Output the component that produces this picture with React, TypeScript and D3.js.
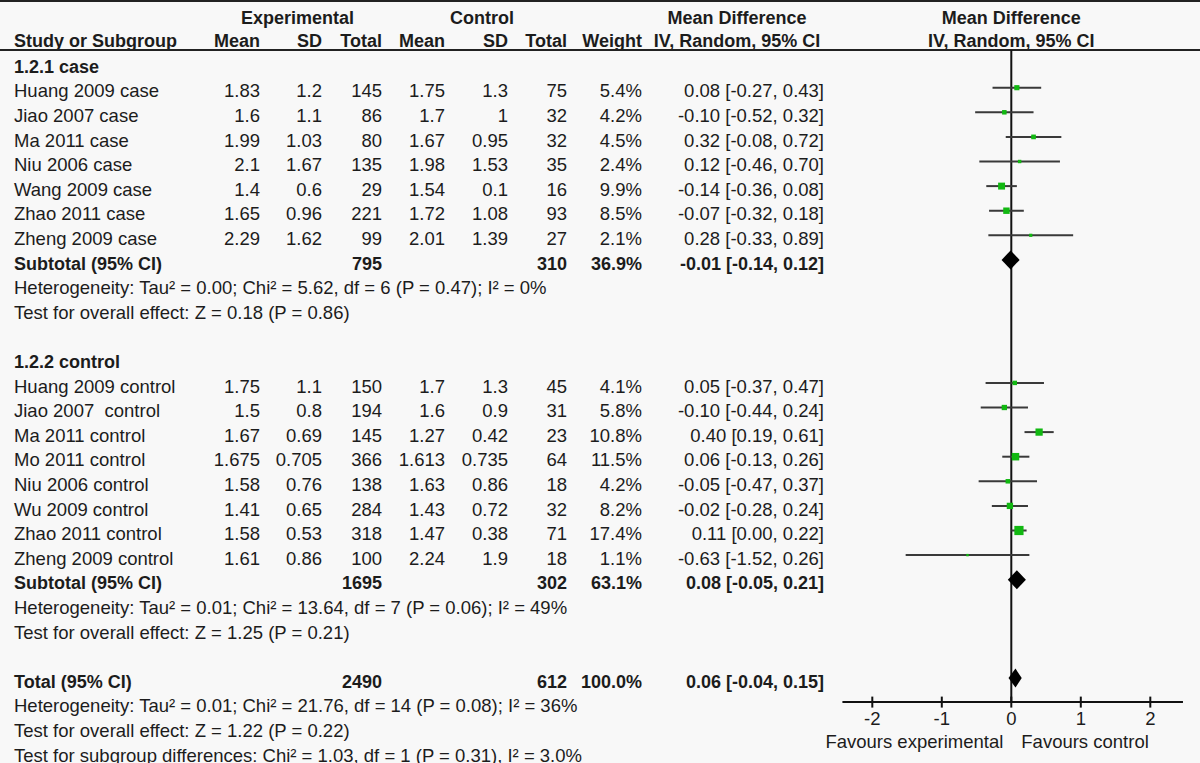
import React from "react";
import * as d3 from "d3";

const studies = [
  "Huang 2009 case", "Jiao 2007 case", "Ma 2011 case", "Niu 2006 case", "Wang 2009 case", "Zhao 2011 case", "Zheng 2009 case",
  "Huang 2009 control", "Jiao 2007  control", "Ma 2011 control", "Mo 2011 control", "Niu 2006 control", "Wu 2009 control", "Zhao 2011 control", "Zheng 2009 control",
];
const groupOf = [0, 0, 0, 0, 0, 0, 0, 1, 1, 1, 1, 1, 1, 1, 1];
const expMean = ["1.83", "1.6", "1.99", "2.1", "1.4", "1.65", "2.29", "1.75", "1.5", "1.67", "1.675", "1.58", "1.41", "1.58", "1.61"];
const expSD = ["1.2", "1.1", "1.03", "1.67", "0.6", "0.96", "1.62", "1.1", "0.8", "0.69", "0.705", "0.76", "0.65", "0.53", "0.86"];
const expTotal = [145, 86, 80, 135, 29, 221, 99, 150, 194, 145, 366, 138, 284, 318, 100];
const ctlMean = ["1.75", "1.7", "1.67", "1.98", "1.54", "1.72", "2.01", "1.7", "1.6", "1.27", "1.613", "1.63", "1.43", "1.47", "2.24"];
const ctlSD = ["1.3", "1", "0.95", "1.53", "0.1", "1.08", "1.39", "1.3", "0.9", "0.42", "0.735", "0.86", "0.72", "0.38", "1.9"];
const ctlTotal = [75, 32, 32, 35, 16, 93, 27, 45, 31, 23, 64, 18, 32, 71, 18];
const weights = [5.4, 4.2, 4.5, 2.4, 9.9, 8.5, 2.1, 4.1, 5.8, 10.8, 11.5, 4.2, 8.2, 17.4, 1.1];
const md = [0.08, -0.10, 0.32, 0.12, -0.14, -0.07, 0.28, 0.05, -0.10, 0.40, 0.06, -0.05, -0.02, 0.11, -0.63];
const lo = [-0.27, -0.52, -0.08, -0.46, -0.36, -0.32, -0.33, -0.37, -0.44, 0.19, -0.13, -0.47, -0.28, 0.00, -1.52];
const hi = [0.43, 0.32, 0.72, 0.70, 0.08, 0.18, 0.89, 0.47, 0.24, 0.61, 0.26, 0.37, 0.24, 0.22, 0.26];

const groupNames = ["1.2.1 case", "1.2.2 control"];
const subExpTotal = [795, 1695];
const subCtlTotal = [310, 302];
const subWeight = ["36.9%", "63.1%"];
const subMd = [-0.01, 0.08];
const subLo = [-0.14, -0.05];
const subHi = [0.12, 0.21];
const subHet = [
  "Heterogeneity: Tau² = 0.00; Chi² = 5.62, df = 6 (P = 0.47); I² = 0%",
  "Heterogeneity: Tau² = 0.01; Chi² = 13.64, df = 7 (P = 0.06); I² = 49%",
];
const subTest = ["Test for overall effect: Z = 0.18 (P = 0.86)", "Test for overall effect: Z = 1.25 (P = 0.21)"];

const totExp = 2490;
const totCtl = 612;
const totWeight = "100.0%";
const totMd = 0.06;
const totLo = -0.04;
const totHi = 0.15;
const totTexts = [
  "Heterogeneity: Tau² = 0.01; Chi² = 21.76, df = 14 (P = 0.08); I² = 36%",
  "Test for overall effect: Z = 1.22 (P = 0.22)",
  "Test for subgroup differences: Chi² = 1.03, df = 1 (P = 0.31), I² = 3.0%",
];
const axisTicks = [-2, -1, 0, 1, 2];
const favLeft = "Favours experimental";
const favRight = "Favours control";

const W = 1200, H = 763;
const FONT = "'Liberation Sans', Arial, Helvetica, sans-serif";
const FS = 18.5;
const TXT = "#1c1c1c";

const f2 = (v: number) => (v < 0 ? "-" : "") + Math.abs(v).toFixed(2);
const ciText = (m: number, l: number, h: number) => `${f2(m)} [${f2(l)}, ${f2(h)}]`;

export default function App() {
  const x = d3.scaleLinear().domain([-2, 2]).range([872.3, 1150.3]);
  const y = d3.scaleLinear().domain([-1, 27]).range([63.1, 751.9]);
  const sq = d3.scaleSqrt().domain([0, 17.4]).range([0, 9.2]);
  const base = 9.6;

  // build row assignment
  type Row = { kind: string; idx: number; g?: number };
  const rows: Row[] = [];
  for (let g = 0; g < 2; g++) {
    rows.push({ kind: "group", idx: g });
    studies.forEach((_, i) => { if (groupOf[i] === g) rows.push({ kind: "study", idx: i }); });
    rows.push({ kind: "sub", idx: g });
    rows.push({ kind: "het", idx: g });
    rows.push({ kind: "test", idx: g });
    rows.push({ kind: "blank", idx: g });
  }
  rows.push({ kind: "total", idx: 0 });
  totTexts.forEach((_, i) => rows.push({ kind: "tot", idx: i }));
  const rowY = (r: number) => y(r - 1);

  const col = { mean1: 260, sd1: 322, tot1: 382, mean2: 445, sd2: 508, tot2: 567, wt: 642, ci: 824 };
  const axisY = rowY(rows.findIndex((r) => r.kind === "total")) + 24;

  const diamond = (m: number, l: number, h: number, cy: number) =>
    `M${x(l)},${cy} L${x(m)},${cy - 9.5} L${x(h)},${cy} L${x(m)},${cy + 9.5} Z`;

  const num = (t: string | number, xr: number, yy: number, bold = false, key?: string) => (
    <text key={key} x={xr} y={yy} textAnchor="end" fontWeight={bold ? "bold" : "normal"}>{t}</text>
  );

  return (
    <svg width={W} height={H} style={{ position: "absolute", left: 0, top: 0, background: "#f8f8f8" }}
      fontFamily={FONT} fontSize={FS} fill={TXT}>
      <rect x={0} y={0} width={W} height={H} fill="#f8f8f8" />
      <line x1={0} x2={W} y1={1} y2={1} stroke="#222" strokeWidth={2} />
      {/* header */}
      <g fontWeight="bold" fontSize={18}>
        <text x={(213 + col.tot1) / 2} y={24} textAnchor="middle">Experimental</text>
        <text x={(397 + col.tot2) / 2} y={24} textAnchor="middle">Control</text>
        <text x={737} y={24} textAnchor="middle">Mean Difference</text>
        <text x={x(0)} y={24} textAnchor="middle">Mean Difference</text>
        <text x={14} y={47}>Study or Subgroup</text>
        <text x={col.mean1} y={47} textAnchor="end">Mean</text>
        <text x={col.sd1} y={47} textAnchor="end">SD</text>
        <text x={col.tot1} y={47} textAnchor="end">Total</text>
        <text x={col.mean2} y={47} textAnchor="end">Mean</text>
        <text x={col.sd2} y={47} textAnchor="end">SD</text>
        <text x={col.tot2} y={47} textAnchor="end">Total</text>
        <text x={col.wt} y={47} textAnchor="end">Weight</text>
        <text x={737} y={47} textAnchor="middle">IV, Random, 95% CI</text>
        <text x={x(0)} y={47} textAnchor="middle">IV, Random, 95% CI</text>
      </g>
      <line x1={0} x2={W} y1={50} y2={50} stroke="#222" strokeWidth={2} />

      {/* zero line */}
      <line x1={x(0)} x2={x(0)} y1={50} y2={axisY} stroke="#111" strokeWidth={2} />

      {rows.map((r, ri) => {
        const cy = rowY(ri);
        const ty = cy + base;
        if (r.kind === "group")
          return <text key={ri} x={14} y={ty} fontWeight="bold" fontSize={18}>{groupNames[r.idx]}</text>;
        if (r.kind === "study") {
          const i = r.idx;
          const s = Math.max(2.4, sq(weights[i]));
          return (
            <g key={ri}>
              <text x={14} y={ty} xmlSpace="preserve" style={{ whiteSpace: "pre" }}>{studies[i]}</text>
              {num(expMean[i], col.mean1, ty)}
              {num(expSD[i], col.sd1, ty)}
              {num(expTotal[i], col.tot1, ty)}
              {num(ctlMean[i], col.mean2, ty)}
              {num(ctlSD[i], col.sd2, ty)}
              {num(ctlTotal[i], col.tot2, ty)}
              {num(weights[i].toFixed(1) + "%", col.wt, ty)}
              {num(ciText(md[i], lo[i], hi[i]), col.ci, ty)}
              <line x1={x(lo[i])} x2={x(hi[i])} y1={cy} y2={cy} stroke="#3a3a3a" strokeWidth={2} />
              <rect x={x(md[i]) - s / 2} y={cy - s / 2} width={s} height={s} fill="#12b812" />
            </g>
          );
        }
        if (r.kind === "sub") {
          const g = r.idx;
          return (
            <g key={ri} fontWeight="bold" fontSize={18}>
              <text x={14} y={ty}>Subtotal (95% CI)</text>
              {num(subExpTotal[g], col.tot1, ty, true)}
              {num(subCtlTotal[g], col.tot2, ty, true)}
              {num(subWeight[g], col.wt, ty, true)}
              {num(ciText(subMd[g], subLo[g], subHi[g]), col.ci, ty, true)}
              <path d={diamond(subMd[g], subLo[g], subHi[g], cy)} fill="#000" />
            </g>
          );
        }
        if (r.kind === "het") return <text key={ri} x={14} y={ty}>{subHet[r.idx]}</text>;
        if (r.kind === "test") return <text key={ri} x={14} y={ty}>{subTest[r.idx]}</text>;
        if (r.kind === "total")
          return (
            <g key={ri} fontWeight="bold" fontSize={18}>
              <text x={14} y={ty}>Total (95% CI)</text>
              {num(totExp, col.tot1, ty, true)}
              {num(totCtl, col.tot2, ty, true)}
              {num(totWeight, col.wt, ty, true)}
              {num(ciText(totMd, totLo, totHi), col.ci, ty, true)}
              <path d={diamond(totMd, totLo, totHi, cy)} fill="#000" />
            </g>
          );
        if (r.kind === "tot") return <text key={ri} x={14} y={ty}>{totTexts[r.idx]}</text>;
        return null;
      })}

      {/* axis */}
      <line x1={x(-2.43)} x2={x(2.47)} y1={axisY} y2={axisY} stroke="#111" strokeWidth={2} />
      {axisTicks.map((t) => (
        <g key={t}>
          <line x1={x(t)} x2={x(t)} y1={axisY - 5.5} y2={axisY + 5.5} stroke="#111" strokeWidth={2} />
          <text x={x(t)} y={axisY + 23} textAnchor="middle">{t}</text>
        </g>
      ))}
      <text x={x(0) - 8} y={axisY + 46} textAnchor="end">{favLeft}</text>
      <text x={x(0) + 10} y={axisY + 46} textAnchor="start">{favRight}</text>
    </svg>
  );
}
